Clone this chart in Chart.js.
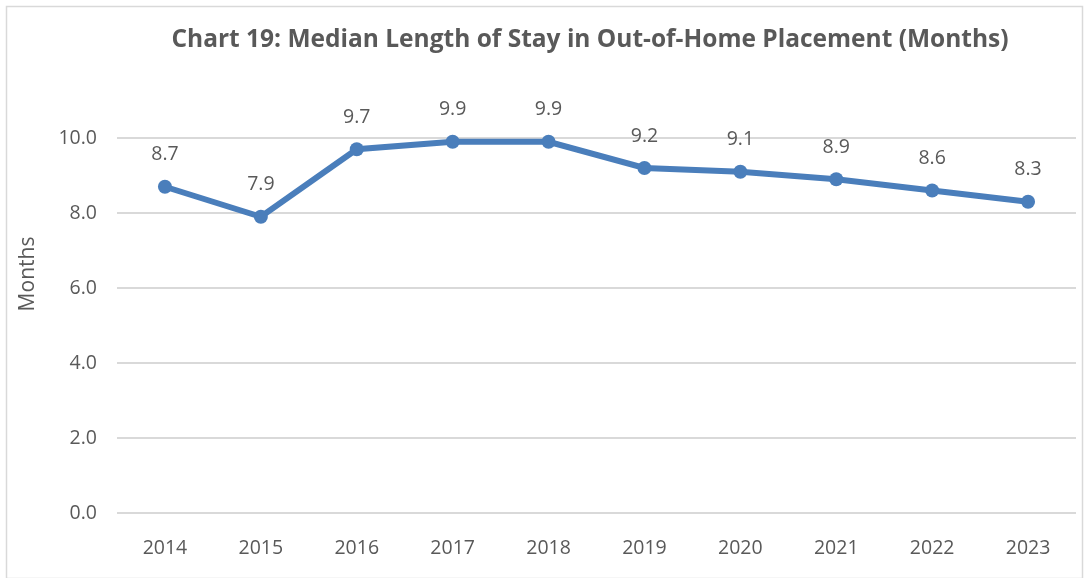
<!DOCTYPE html>
<html>
<head>
<meta charset="utf-8">
<script src="https://cdn.jsdelivr.net/npm/chart.js@4.4.1/dist/chart.umd.min.js"></script>
<style>
  html, body { margin: 0; padding: 0; background: #fff; }
  #wrap { width: 1089px; height: 578px; }
</style>
</head>
<body>
<div id="wrap"><canvas id="stayChart" width="1089" height="578"></canvas></div>
<script>
// datos
const years = ['2014', '2015', '2016', '2017', '2018', '2019', '2020', '2021', '2022', '2023'];
const medianMonths = [8.7, 7.9, 9.7, 9.9, 9.9, 9.2, 9.1, 8.9, 8.6, 8.3];
const chartTitle = 'Chart 19: Median Length of Stay in Out-of-Home Placement (Months)';
const yAxisTitle = 'Months';

const textColor = '#595959';
const lineColor = '#4a7ebb';
const gridColor = '#d9d9d9';
const fontFamily = "'Open Sans', 'Noto Sans', sans-serif";

// marco, titulo, titulo del eje y etiquetas de datos
const decorPlugin = {
    id: 'decor',
    beforeDraw(chart) {
        const ctx = chart.ctx;
        ctx.save();
        ctx.fillStyle = '#fff';
        ctx.fillRect(0, 0, chart.width, chart.height);
        ctx.strokeStyle = '#d9d9d9';
        ctx.lineWidth = 1.5;
        ctx.strokeRect(6.5, 6.5, chart.width - 13, chart.height - 6);
        ctx.restore();
    },
    afterDatasetsDraw(chart) {
        const ctx = chart.ctx;
        ctx.save();
        ctx.fillStyle = textColor;
        ctx.textAlign = 'center';
        ctx.textBaseline = 'middle';

        ctx.font = `bold 24.5px ${fontFamily}`;
        ctx.fillText(chartTitle, 590, 40);

        ctx.font = `19.5px ${fontFamily}`;
        const meta = chart.getDatasetMeta(0);
        meta.data.forEach((pt, i) => {
            ctx.fillText(medianMonths[i].toFixed(1), pt.x, pt.y - 32);
        });

        ctx.font = `21px ${fontFamily}`;
        ctx.translate(28, 274);
        ctx.rotate(-Math.PI / 2);
        ctx.fillText(yAxisTitle, 0, 0);
        ctx.restore();
    }
};

new Chart(document.getElementById('stayChart').getContext('2d'), {
    type: 'line',
    data: {
        labels: years,
        datasets: [{
            data: medianMonths,
            borderColor: lineColor,
            backgroundColor: lineColor,
            borderWidth: 6,
            pointRadius: 7,
            pointBackgroundColor: lineColor,
            pointBorderWidth: 0,
            tension: 0
        }]
    },
    options: {
        responsive: false,
        animation: false,
        clip: false,
        layout: { padding: { left: 18, right: 13, top: 138, bottom: 0 } },
        plugins: {
            legend: { display: false },
            title: { display: false },
            tooltip: { enabled: false }
        },
        scales: {
            x: {
                offset: true,
                grid: { display: false },
                border: { display: false },
                ticks: { color: textColor, font: { family: fontFamily, size: 19.5 }, padding: 16 },
                afterFit: (scale) => { scale.height = 65; }
            },
            y: {
                min: 0,
                max: 10,
                grid: { color: gridColor, lineWidth: 2, drawTicks: false },
                border: { display: false },
                ticks: {
                    stepSize: 2,
                    color: textColor,
                    font: { family: fontFamily, size: 19.5 },
                    padding: 20,
                    callback: (v) => v.toFixed(1)
                },
                afterFit: (scale) => { scale.width = 99; }
            }
        }
    },
    plugins: [decorPlugin]
});
</script>
</body>
</html>
